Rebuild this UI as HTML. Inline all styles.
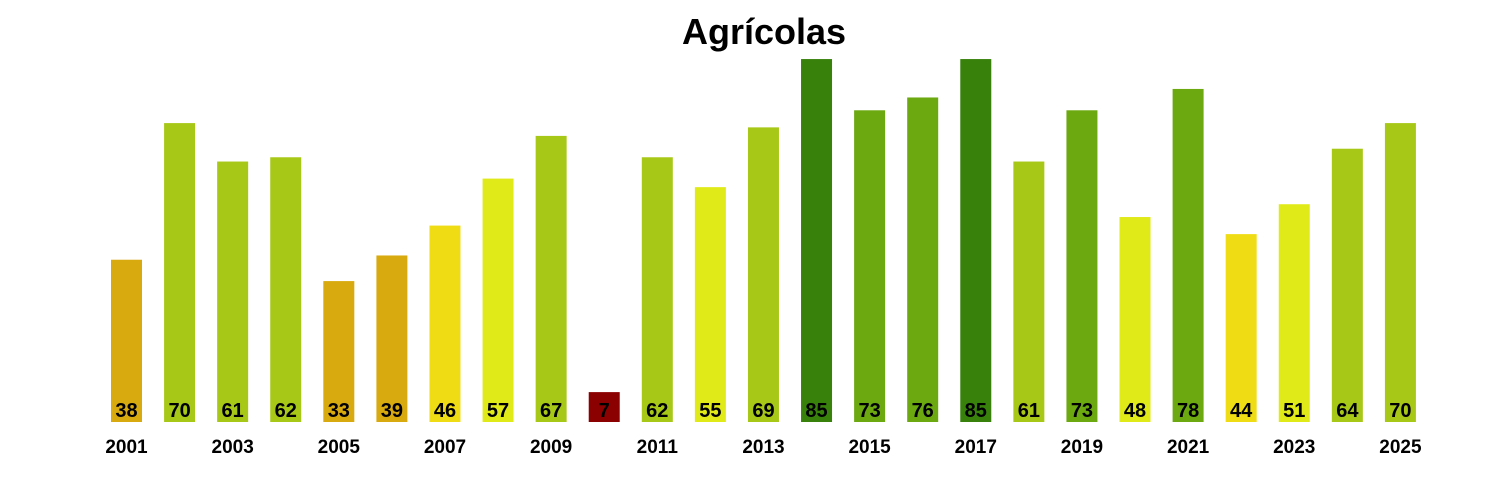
<!DOCTYPE html>
<html><head><meta charset="utf-8"><style>
body{margin:0;background:#fff;}
svg{display:block;font-family:"Liberation Sans",Arial,sans-serif;font-weight:bold;}
</style></head><body>
<svg width="1500" height="500" xmlns="http://www.w3.org/2000/svg">
<rect width="1500" height="500" fill="#fff"/>
<text x="764" y="44" font-size="36" text-anchor="middle">Agrícolas</text>
<g id="bars"></g>
</svg>
<script>
const vals=[38,70,61,62,33,39,46,57,67,7,62,55,69,85,73,76,85,61,73,48,78,44,51,64,70];
function col(v){if(v<10)return"#8B0000";if(v<=40)return"#D8AA10";if(v<=47)return"#F0DC14";if(v<=58)return"#E0EA18";if(v<=70)return"#A8C818";if(v<=80)return"#6CA810";return"#38820C";}
let s="";
vals.forEach((v,i)=>{const cx=126.5+i*53.08;const h=v*4.27;
s+=`<rect x="${cx-15.5}" y="${422-h}" width="31" height="${h}" fill="${col(v)}"/>`;
s+=`<text x="${cx}" y="417" font-size="20" text-anchor="middle">${v}</text>`;
if(i%2==0)s+=`<text x="${cx}" y="453" font-size="19" text-anchor="middle">${2001+i}</text>`;});
document.getElementById("bars").innerHTML=s;
</script>
</body></html>
